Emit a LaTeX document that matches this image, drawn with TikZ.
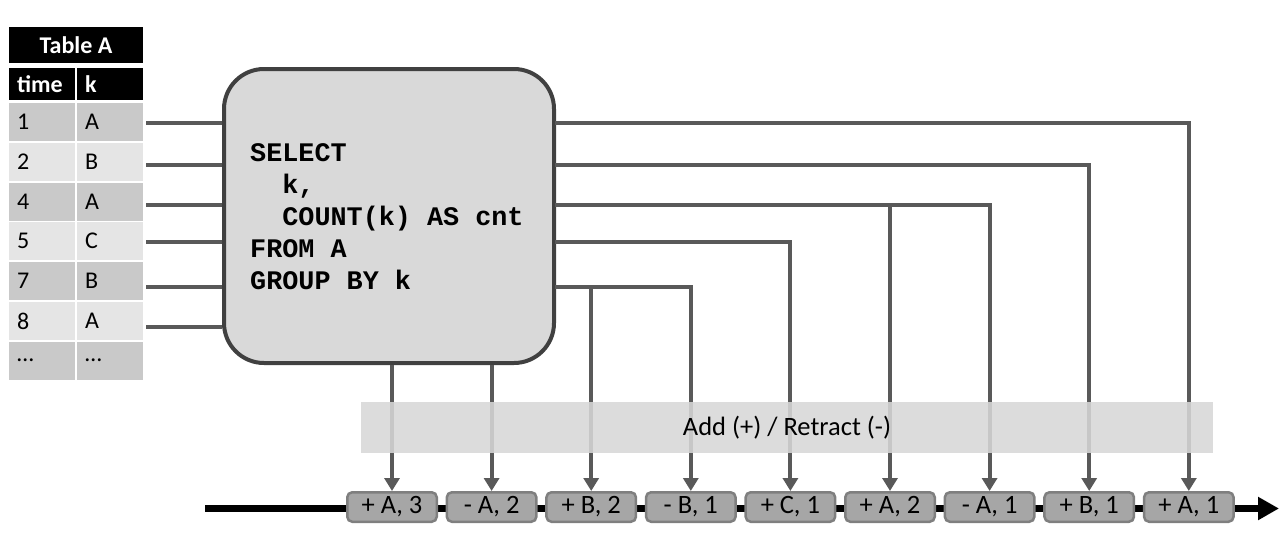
\documentclass[tikz,border=0pt]{standalone}
\usepackage{fontspec}
\setmainfont{Carlito}
\newfontfamily\sqlfont{Liberation Mono}
\usetikzlibrary{arrows.meta}
\definecolor{conncol}{HTML}{595959}
\definecolor{qline}{HTML}{404040}
\definecolor{qfill}{HTML}{D9D9D9}
\definecolor{celldark}{HTML}{C9C9C9}
\definecolor{celllight}{HTML}{E5E5E5}
\definecolor{sboxfill}{HTML}{A6A6A6}
\definecolor{sboxline}{HTML}{7F7F7F}
\definecolor{bandfill}{HTML}{D7D7D7}
\begin{document}
\begin{tikzpicture}[x=1pt,y=-1pt,
  cell/.style={text width=50pt, align=left, inner xsep=8pt, inner ysep=0pt,
    minimum height=38pt, font=\fontsize{24}{28}\selectfont},
  darkcell/.style={cell, fill=celldark},
  lightcell/.style={cell, fill=celllight},
  headcell/.style={cell, fill=black, text=white, minimum height=32pt,
    font=\fontsize{24}{28}\selectfont\bfseries},
  conn/.style={draw=conncol, line width=4pt},
  arr/.style={conn, -{Triangle[width=15pt,length=13pt]}},
  sbox/.style={draw=sboxline, fill=sboxfill, line width=2.5pt, rounded corners=5pt,
    minimum width=89.5pt, minimum height=29.5pt, inner sep=0pt,
    font=\fontsize{26.5}{30}\selectfont},
  query/.style={draw=qline, fill=qfill, line width=4pt, rounded corners=40pt,
    minimum width=330pt, minimum height=294pt, inner sep=0pt},
  band/.style={fill=bandfill, fill opacity=0.88, text opacity=1,
    minimum width=852pt, minimum height=51pt, inner sep=0pt,
    font=\fontsize{26.5}{30}\selectfont},
  stream/.style={line width=6.5pt, black, -{Triangle[width=22pt,length=21pt]}}
]
\useasboundingbox (0,0) rectangle (1281,535);

% Table A
\node[fill=black, text=white, minimum width=134pt, minimum height=36pt, inner sep=0pt,
  font=\fontsize{24}{28}\selectfont\bfseries] (thead) at (76,45) {Table A};
\node[headcell] (htime) at (42,84) {time};
\node[headcell] (hk) at (110,84) {k};
\node[darkcell]  (r1t) at (42,122)   {1};  \node[darkcell]  (r1k) at (110,122)   {A};
\node[lightcell] (r2t) at (42,162)   {2};  \node[lightcell] (r2k) at (110,162)   {B};
\node[darkcell]  (r3t) at (42,201.5) {4};  \node[darkcell]  (r3k) at (110,201.5) {A};
\node[lightcell] (r4t) at (42,241)   {5};  \node[lightcell] (r4k) at (110,241)   {C};
\node[darkcell]  (r5t) at (42,281)   {7};  \node[darkcell]  (r5k) at (110,281)   {B};
\node[lightcell] (r6t) at (42,321)   {8};  \node[lightcell] (r6k) at (110,321)   {A};
\node[darkcell]  (r7t) at (42,360.5) {…};  \node[darkcell]  (r7k) at (110,360.5) {…};

% stream line
\coordinate (st0) at (205,508.5);
\coordinate (st1) at (1279,508.5);
\draw[stream] (st0) -- (st1);

% stream boxes
\foreach \i/\t in {1/{+ A, 3},2/{- A, 2},3/{+ B, 2},4/{- B, 1},5/{+ C, 1},6/{+ A, 2},7/{- A, 1},8/{+ B, 1},9/{+ A, 1}}{
  \node[sbox] (s\i) at ({392+99.6*(\i-1)},507) {\t};
}

% query box
\node[query] (q) at (389,216) {};
\node[anchor=west, align=left, inner sep=0pt,
  font=\sqlfont\bfseries\fontsize{26.8}{32}\selectfont] (sql) at (250,217)
  {SELECT\\\phantom{GR}k,\\\phantom{GR}COUNT(k) AS cnt\\FROM A\\GROUP BY k};

% input connectors
\coordinate (i1) at (146,123);
\coordinate (i2) at (146,165);
\coordinate (i3) at (146,205);
\coordinate (i4) at (146,242);
\coordinate (i5) at (146,287);
\coordinate (i6) at (146,327);
\foreach \k in {1,...,6}{
  \draw[conn] (i\k) -- (i\k -| q.west);
}

% output connectors
\coordinate (o1) at (555,123);
\coordinate (o2) at (555,165);
\coordinate (o3) at (555,205);
\coordinate (o4) at (555,242);
\coordinate (o5) at (555,287);
\draw[arr] (s1.north |- q.south) -- (s1.north);
\draw[arr] (s2.north |- q.south) -- (s2.north);
\draw[arr] (o1) -| (s9.north);
\draw[arr] (o2) -| (s8.north);
\draw[arr] (o3) -| (s7.north);
\draw[arr] (o3 -| s6.north) -- (s6.north);
\draw[arr] (o4) -| (s5.north);
\draw[arr] (o5) -| (s4.north);
\draw[arr] (o5 -| s3.north) -- (s3.north);

% band
\node[band] (band) at (787,427.5) {Add (+) / Retract (-)};
\end{tikzpicture}
\end{document}
